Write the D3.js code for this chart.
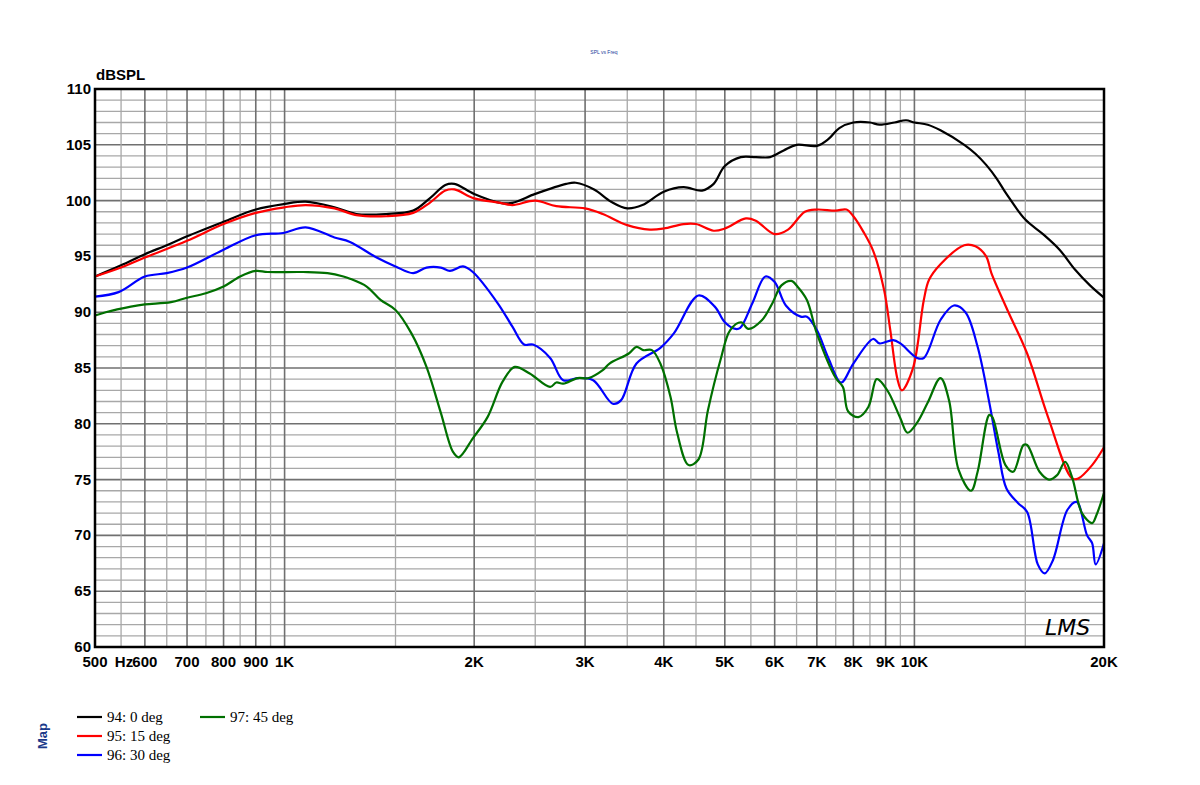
<!DOCTYPE html>
<html>
<head>
<meta charset="utf-8">
<script src="https://cdn.jsdelivr.net/npm/d3@7"></script>
<style>
  body { margin: 0; background: #fff; font-family: "Liberation Sans", Arial, sans-serif; }
  .tick-label { font-weight: bold; font-size: 15px; fill: #000; }
  .legend-text { font-family: "Liberation Serif", "Times New Roman", serif; font-size: 15px; fill: #000; }
</style>
</head>
<body>
<svg id="chart" width="1200" height="785"></svg>
<script>
// Data: [frequency Hz, dB SPL]
const deg0 = [[500,93.2],[550,94.2],[600,95.2],[650,96.0],[700,96.8],[800,98.1],[900,99.2],[1000,99.7],[1080,99.9],[1200,99.4],[1300,98.8],[1450,98.8],[1600,99.1],[1700,100.2],[1800,101.4],[1860,101.5],[2000,100.6],[2200,99.8],[2300,99.8],[2500,100.6],[2800,101.5],[2900,101.6],[3100,101.0],[3300,99.9],[3500,99.3],[3700,99.6],[4000,100.8],[4300,101.2],[4600,100.9],[4800,101.5],[5000,103.1],[5300,103.9],[5600,103.9],[5900,103.9],[6200,104.5],[6500,105.0],[7000,104.9],[7300,105.5],[7600,106.5],[8000,107.0],[8500,107.0],[8800,106.8],[9300,107.0],[9700,107.2],[10000,107.0],[10500,106.8],[11000,106.3],[12000,105.0],[12500,104.2],[13000,103.2],[13500,102.0],[14000,100.6],[15000,98.3],[16000,97.0],[17000,95.6],[18000,93.8],[19000,92.4],[20000,91.3]];
const deg15 = [[500,93.2],[550,94.0],[600,94.9],[700,96.4],[800,97.9],[900,98.9],[1000,99.4],[1080,99.6],[1200,99.3],[1300,98.7],[1450,98.6],[1600,98.9],[1700,99.8],[1800,100.9],[1860,101.0],[2000,100.2],[2200,99.8],[2300,99.6],[2500,100.0],[2700,99.5],[3000,99.3],[3200,98.8],[3500,97.8],[3800,97.4],[4000,97.5],[4300,97.9],[4500,97.9],[4800,97.3],[5000,97.5],[5400,98.4],[5600,98.2],[6000,97.0],[6300,97.4],[6700,99.0],[7000,99.2],[7500,99.1],[7800,99.2],[8000,98.6],[8300,97.2],[8600,95.5],[8950,92.0],[9150,88.5],[9400,84.0],[9550,83.0],[9950,85.0],[10350,91.1],[10550,92.9],[11000,94.3],[12000,96.0],[12500,95.9],[13000,95.0],[13250,93.5],[14050,90.2],[15100,86.3],[16300,80.6],[17800,75.1],[18200,75.1],[19150,76.3],[20000,77.9]];
const deg30 = [[500,91.4],[545,91.8],[600,93.2],[650,93.5],[700,94.0],[800,95.6],[900,96.9],[995,97.1],[1080,97.6],[1200,96.7],[1270,96.3],[1400,94.9],[1500,94.1],[1600,93.5],[1680,94.0],[1770,94.0],[1830,93.7],[1920,94.1],[1990,93.6],[2180,90.8],[2300,88.7],[2400,87.1],[2480,87.1],[2640,85.9],[2770,83.9],[2920,84.1],[3090,83.9],[3320,81.8],[3420,82.1],[3620,85.4],[3950,86.8],[4150,88.1],[4540,91.5],[4820,90.5],[5000,89.1],[5200,88.5],[5290,88.6],[5530,90.8],[5800,93.2],[6000,92.7],[6250,90.6],[6600,89.6],[6750,89.6],[7000,88.4],[7300,85.9],[7650,83.7],[8000,85.4],[8600,87.6],[8800,87.2],[9250,87.5],[9500,87.2],[10100,85.9],[10350,85.9],[11000,89.3],[11550,90.6],[12050,90.0],[12600,86.9],[13150,81.9],[13600,77.4],[14000,74.2],[14600,72.9],[15100,72.1],[15700,67.4],[16100,66.6],[16600,67.8],[17500,72.3],[18100,73.0],[18800,70.0],[19150,69.3],[19400,67.4],[20000,69.3]];
const deg45 = [[500,89.7],[520,90.0],[570,90.5],[600,90.7],[660,90.9],[700,91.3],[750,91.7],[800,92.3],[850,93.2],[900,93.7],[940,93.6],[1070,93.6],[1170,93.5],[1240,93.2],[1270,93.0],[1350,92.3],[1420,91.1],[1500,90.2],[1590,88.1],[1680,85.1],[1770,81.0],[1850,77.5],[1890,77.0],[1990,78.7],[2100,80.6],[2220,83.8],[2320,85.1],[2450,84.5],[2640,83.3],[2700,83.7],[2770,83.6],[2920,84.1],[3040,84.1],[3200,84.8],[3280,85.4],[3520,86.3],[3620,86.9],[3710,86.6],[3830,86.6],[3950,85.4],[4100,82.4],[4200,79.2],[4380,76.3],[4540,76.8],[4700,81.2],[4920,85.7],[5100,88.4],[5310,89.1],[5450,88.5],[5730,89.3],[5950,90.8],[6150,92.4],[6380,92.8],[6520,92.3],[6750,91.1],[7000,88.1],[7500,84.1],[7700,83.3],[7850,81.1],[8150,80.6],[8450,81.5],[8700,84.0],[8800,83.9],[9100,82.8],[9500,80.5],[9750,79.2],[10100,80.1],[10500,81.9],[11000,84.1],[11350,82.1],[11750,75.9],[12300,74.0],[12600,75.7],[13150,80.8],[13300,80.6],[13950,76.3],[14350,75.7],[14900,78.1],[15100,78.1],[15800,75.7],[16350,75.0],[16850,75.4],[17350,76.6],[17800,75.2],[18450,72.0],[19150,71.1],[19450,71.8],[20000,73.8]];

const seriesNames = ["94: 0 deg", "95: 15 deg", "96: 30 deg", "97: 45 deg"];
const seriesColors = ["#000000", "#ff0000", "#0000ff", "#007000"];
const seriesData = [deg0, deg15, deg30, deg45];

const xTickValues = [500, 600, 700, 800, 900, 1000, 2000, 3000, 4000, 5000, 6000, 7000, 8000, 9000, 10000, 20000];
const xTickLabels = ["500", "600", "700", "800", "900", "1K", "2K", "3K", "4K", "5K", "6K", "7K", "8K", "9K", "10K", "20K"];
const xMajorGrid = [600, 700, 800, 900, 1000, 2000, 3000, 4000, 5000, 6000, 7000, 8000, 9000, 10000];
const xMinorGrid = [550, 650, 750, 850, 950, 1500, 2500, 3500, 4500, 5500, 6500, 7500, 8500, 9500, 15000];
const yTicks = [60, 65, 70, 75, 80, 85, 90, 95, 100, 105, 110];

const svg = d3.select("#chart");
const plotLeft = 95, plotRight = 1104, plotTop = 89, plotBottom = 647;

const x = d3.scaleLog().domain([500, 20000]).range([plotLeft, plotRight]);
const y = d3.scaleLinear().domain([60, 110]).range([plotBottom, plotTop]);

// Grid
const grid = svg.append("g");
grid.selectAll(".hminor")
  .data(d3.range(61, 110).filter(d => d % 5 !== 0))
  .enter().append("line")
  .attr("x1", plotLeft).attr("x2", plotRight)
  .attr("y1", d => y(d)).attr("y2", d => y(d))
  .attr("stroke", "#a8a8a8").attr("stroke-width", 1.3);
grid.selectAll(".hmajor")
  .data(yTicks.slice(1, -1))
  .enter().append("line")
  .attr("x1", plotLeft).attr("x2", plotRight)
  .attr("y1", d => y(d)).attr("y2", d => y(d))
  .attr("stroke", "#707070").attr("stroke-width", 1.6);
grid.selectAll(".vminor")
  .data(xMinorGrid)
  .enter().append("line")
  .attr("y1", plotTop).attr("y2", plotBottom)
  .attr("x1", d => x(d)).attr("x2", d => x(d))
  .attr("stroke", "#a8a8a8").attr("stroke-width", 1.3);
grid.selectAll(".vmajor")
  .data(xMajorGrid)
  .enter().append("line")
  .attr("y1", plotTop).attr("y2", plotBottom)
  .attr("x1", d => x(d)).attr("x2", d => x(d))
  .attr("stroke", "#707070").attr("stroke-width", 1.6);

// Curves
const line = d3.line()
  .x(d => x(d[0]))
  .y(d => y(d[1]))
  .curve(d3.curveCatmullRom.alpha(0.5));

svg.append("g").selectAll("path")
  .data(seriesData)
  .enter().append("path")
  .attr("d", d => line(d))
  .attr("fill", "none")
  .attr("stroke", (d, i) => seriesColors[i])
  .attr("stroke-width", 2.2);

// Frame
svg.append("rect")
  .attr("x", plotLeft).attr("y", plotTop)
  .attr("width", plotRight - plotLeft).attr("height", plotBottom - plotTop)
  .attr("fill", "none").attr("stroke", "#000").attr("stroke-width", 2.5);

// Axes labels
svg.selectAll(".ylab")
  .data(yTicks)
  .enter().append("text")
  .attr("class", "tick-label")
  .attr("x", plotLeft - 4)
  .attr("y", d => y(d) + 5)
  .attr("text-anchor", "end")
  .text(d => d);

svg.selectAll(".xlab")
  .data(xTickValues)
  .enter().append("text")
  .attr("class", "tick-label")
  .attr("x", d => x(d))
  .attr("y", 667)
  .attr("text-anchor", "middle")
  .text((d, i) => xTickLabels[i]);

svg.append("text").attr("class", "tick-label")
  .attr("x", 124).attr("y", 667).attr("text-anchor", "middle").text("Hz");

svg.append("text").attr("class", "tick-label")
  .attr("x", 96).attr("y", 80).text("dBSPL");

svg.append("text")
  .attr("x", 604).attr("y", 54).attr("text-anchor", "middle")
  .attr("font-size", 5).attr("fill", "#1a3a9a")
  .text("SPL vs Freq");

svg.append("text")
  .attr("transform", "translate(47,736) rotate(-90)")
  .attr("text-anchor", "middle")
  .attr("font-size", 13).attr("font-weight", "bold").attr("fill", "#1a3a8a")
  .text("Map");

// LMS mark
svg.append("text")
  .attr("x", 1045).attr("y", 635)
  .attr("font-family", "DejaVu Sans").attr("font-style", "italic")
  .attr("font-size", 22).attr("font-weight", "300").attr("fill", "#000")
  .text("LMS");

// Legend
const legendPos = [[77, 717], [77, 736], [77, 755], [200, 717]];
const legend = svg.append("g");
seriesNames.forEach((name, i) => {
  const [lx, ly] = legendPos[i];
  legend.append("line")
    .attr("x1", lx).attr("x2", lx + 25)
    .attr("y1", ly).attr("y2", ly)
    .attr("stroke", seriesColors[i]).attr("stroke-width", 2.2);
  legend.append("text")
    .attr("class", "legend-text")
    .attr("x", lx + 30).attr("y", ly + 5)
    .text(name);
});
</script>
</body>
</html>
